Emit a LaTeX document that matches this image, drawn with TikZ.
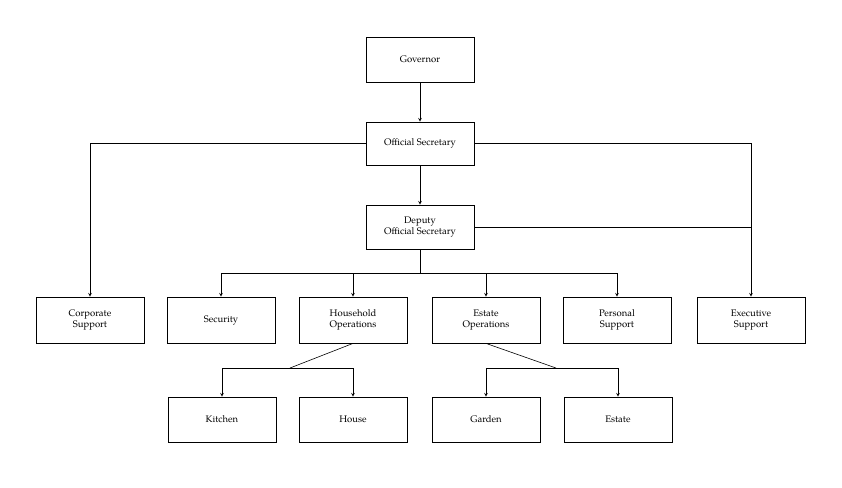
\documentclass[tikz,border=0pt]{standalone}
\usepackage{fontspec}
\setmainfont{TeX Gyre Pagella}
\begin{document}
\begin{tikzpicture}[x=1pt,y=-1pt,
  box/.style={draw,thick,minimum width=108pt,minimum height=45pt,align=center,font=\fontsize{9.5}{11}\selectfont,inner sep=1pt},
  ln/.style={draw,line width=0.6pt},
  ar/.style={ln,->,>=stealth}]
\useasboundingbox (0,0) rectangle (842,487);
\node[box] (gov) at (420,59.5) {Governor};
\node[box,minimum height=43pt] (os) at (420,143.5) {Official Secretary};
\node[box,minimum height=44pt] (dep) at (420,227) {Deputy\\Official Secretary};
\node[box,minimum height=46pt] (cor) at (90,320) {Corporate\\Support};
\node[box,minimum height=46pt] (sec) at (221,320) {Security};
\node[box,minimum height=46pt] (hh) at (353,320) {Household\\Operations};
\node[box,minimum height=46pt] (eo) at (486,320) {Estate\\Operations};
\node[box,minimum height=46pt] (ps) at (617,320) {Personal\\Support};
\node[box,minimum height=46pt] (ex) at (751,320) {Executive\\Support};
\node[box] (kit) at (222,419.5) {Kitchen};
\node[box] (hou) at (353,419.5) {House};
\node[box] (gar) at (486,419.5) {Garden};
\node[box] (est) at (618,419.5) {Estate};
\draw[ar] (gov) -- (os);
\draw[ar] (os) -- (dep);
\draw[ar] (os.west) -| (cor.north);
\draw[ar] (os.east) -| (ex.north);
\draw[ln] (dep.east) -- (751,227);
\coordinate (b1) at (420,273);
\draw[ln] (dep.south) -- (b1);
\draw[ln] (221,273) -- (617,273);
\foreach \n in {sec,hh,eo,ps} \draw[ar] (b1 -| \n) -- (\n.north);
\coordinate (h1) at (290,368);
\draw[ln] (hh.south) -- (h1);
\draw[ln] (kit.north |- h1) -- (hou.north |- h1);
\foreach \n in {kit,hou} \draw[ar] (h1 -| \n) -- (\n.north);
\coordinate (e1) at (556,368);
\draw[ln] (eo.south) -- (e1);
\draw[ln] (gar.north |- e1) -- (est.north |- e1);
\foreach \n in {gar,est} \draw[ar] (e1 -| \n) -- (\n.north);
\end{tikzpicture}
\end{document}
